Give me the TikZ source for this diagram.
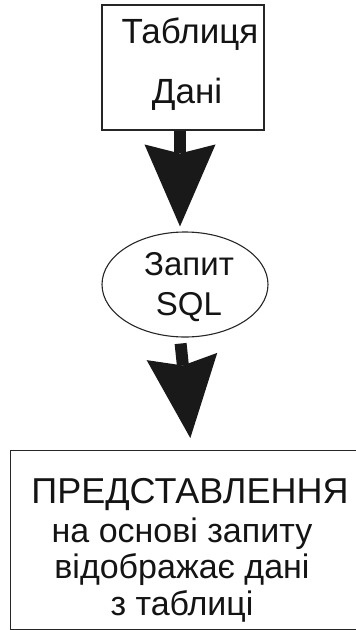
\documentclass[tikz,border=0pt]{standalone}
\usepackage{fontspec}
\setmainfont{Liberation Sans}
\usetikzlibrary{arrows.meta,shapes.geometric}
\begin{document}
\begin{tikzpicture}[x=1pt,y=-1pt,
  box/.style={draw=black!85, line width=1.1pt, inner sep=0pt},
  txt/.style={anchor=base, inner sep=0pt, text=black!92},
  bigarrow/.style={line width=12pt, draw=black!90,
    -{Stealth[length=82pt,width=71pt,inset=9pt,line width=0pt,fill=black!90]}}]
\useasboundingbox (0,0) rectangle (356,630);
\clip (0,0) rectangle (356,630);
% nodes
\node[box, minimum width=162pt, minimum height=125pt] (tab) at (183,67.5) {};
\node[box, ellipse, minimum width=166pt, minimum height=105pt] (q) at (185,284.5) {};
\node[box, minimum width=370pt, minimum height=179pt, anchor=north west] (view) at (10,450) {};
% texts
\node[txt, font=\fontsize{35}{40}\selectfont] (t1) at (190,43) {Таблиця};
\node[txt, font=\fontsize{35}{40}\selectfont] (t2) at (187,103) {Дані};
\node[txt, font=\fontsize{33}{38}\selectfont] (q1) at (189,275) {Запит};
\node[txt, font=\fontsize{33}{38}\selectfont] (q2) at (189,315) {SQL};
\node[txt, font=\fontsize{36}{38}\selectfont] (v1) at (190,503) {ПРЕДСТАВЛЕННЯ};
\node[txt, font=\fontsize{34}{38}\selectfont] (v2) at (182,542) {на основі запиту};
\node[txt, font=\fontsize{34}{38}\selectfont] (v3) at (182,578) {відображає дані};
\node[txt, font=\fontsize{34}{38}\selectfont] (v4) at (182,615) {з таблиці};
% connectors
\draw[bigarrow, shorten >=5pt] ([xshift=-3pt]tab.south) -- ([xshift=-5pt]q.north);
\draw[bigarrow, shorten <=6pt, shorten >=12pt] ([xshift=-5pt]q.south) -- ([xshift=-4pt]view.north);
\end{tikzpicture}
\end{document}
